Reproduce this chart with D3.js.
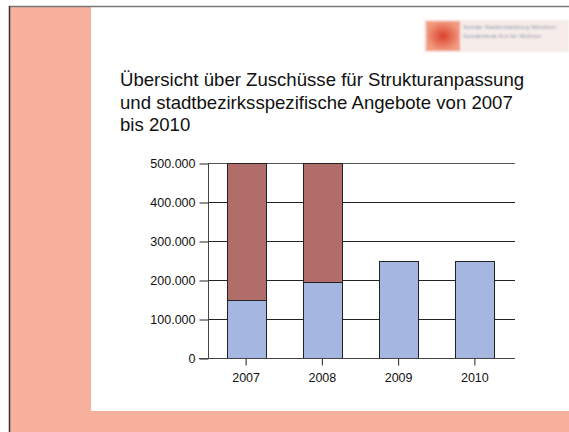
<!DOCTYPE html>
<html lang="de">
<head>
    <meta charset="UTF-8">
    <title>Zuschüsse</title>
    <script src="https://d3js.org/d3.v7.min.js"></script>
    <style>
        body {margin: 0; background: white;}
        text {font-family: "Liberation Sans", Arial, sans-serif;}
    </style>
</head>
<body>
<script>
    const width = 569;
    const height = 432;

    // data
    const years = ["2007", "2008", "2009", "2010"];
    const strukturanpassung = [148000, 196000, 250000, 250000];
    const stadtbezirk = [352000, 304000, 0, 0];
    const yTicks = [0, 100000, 200000, 300000, 400000, 500000];
    const titleLines = [
        "Übersicht über Zuschüsse für Strukturanpassung",
        "und stadtbezirksspezifische Angebote von 2007",
        "bis 2010"
    ];

    const svg = d3.select("body").append("svg")
            .attr("width", width).attr("height", height);

    // slide background
    svg.append("rect").attr("x", 9).attr("y", 6).attr("width", width - 9).attr("height", height - 6)
            .style("fill", "#f7b09c");
    svg.append("rect").attr("x", 91).attr("y", 7).attr("width", width - 91).attr("height", 404)
            .style("fill", "white");
    svg.append("line").attr("x1", 9).attr("x2", width).attr("y1", 6.5).attr("y2", 6.5)
            .style("stroke", "#777").style("stroke-width", 1.5);
    svg.append("line").attr("x1", 9.5).attr("x2", 9.5).attr("y1", 6).attr("y2", height)
            .style("stroke", "#333").style("stroke-width", 1.5);

    // blurred logo
    const defs = svg.append("defs");
    defs.append("filter").attr("id", "blur")
            .append("feGaussianBlur").attr("stdDeviation", 1.2);
    const grad = defs.append("radialGradient").attr("id", "logoRed");
    grad.append("stop").attr("offset", "0%").attr("stop-color", "#d9402c");
    grad.append("stop").attr("offset", "100%").attr("stop-color", "#f39a80");
    const logo = svg.append("g").attr("filter", "url(#blur)");
    logo.append("rect").attr("x", 424).attr("y", 20).attr("width", 145).attr("height", 32)
            .style("fill", "#f6ecea");
    logo.append("rect").attr("x", 426).attr("y", 21).attr("width", 34).attr("height", 30)
            .style("fill", "url(#logoRed)");
    logo.append("text").attr("x", 463).attr("y", 29).style("font-size", "6px").style("fill", "#8a95a8")
            .text("Soziale Stadtentwicklung München");
    logo.append("text").attr("x", 463).attr("y", 38).style("font-size", "6px").style("fill", "#8a95a8")
            .text("Sozialreferat Amt für Wohnen");

    // title
    svg.append("text").attr("x", 120).style("font-size", "18.6px").style("fill", "#111")
            .selectAll("tspan").data(titleLines).enter().append("tspan")
            .attr("x", 120).attr("y", (d, i) => 86 + i * 22.5)
            .text(d => d);

    // scales
    const x = d3.scaleBand().domain(years).range([208, 513]).paddingInner(0.49).paddingOuter(0.245);
    const y = d3.scaleLinear().domain([0, 500000]).range([358, 163]);
    const fmt = v => v === 0 ? "0" : d3.format(",")(v).replace(/,/g, ".");

    // grid
    svg.append("g").selectAll("line").data(yTicks.slice(1)).enter().append("line")
            .attr("x1", 208).attr("x2", 515)
            .attr("y1", d => Math.round(y(d)) + 0.5).attr("y2", d => Math.round(y(d)) + 0.5)
            .style("stroke", (d, i) => d === 500000 ? "#555" : "#222").style("stroke-width", 1);

    // y axis
    const yAxis = svg.append("g").attr("transform", "translate(208.5,0.5)")
            .call(d3.axisLeft(y).tickValues(yTicks).tickFormat(fmt).tickSize(9).tickPadding(4));
    yAxis.select(".domain").attr("d", "M0," + Math.round(y(500000)) + "V" + Math.round(y(0))).style("stroke", "#444");
    yAxis.selectAll(".tick line").style("stroke", "#222");
    yAxis.selectAll("text").style("font-size", "12.5px").style("fill", "#111")
            .attr("font-family", null);

    // bars
    const stack = years.map((yr, i) => ({year: yr, a: strukturanpassung[i], b: stadtbezirk[i]}));
    svg.append("g").selectAll("rect.blue").data(stack).enter().append("rect")
            .attr("class", "blue")
            .attr("x", d => Math.round(x(d.year)) + 0.5)
            .attr("y", d => Math.round(y(d.a)) + 0.5)
            .attr("width", Math.round(x.bandwidth()))
            .attr("height", d => Math.round(y(0)) - Math.round(y(d.a)))
            .style("fill", "#a5b7e0").style("stroke", "#222").style("stroke-width", 1);
    svg.append("g").selectAll("rect.red").data(stack.filter(d => d.b > 0)).enter().append("rect")
            .attr("class", "red")
            .attr("x", d => Math.round(x(d.year)) + 0.5)
            .attr("y", d => Math.round(y(d.a + d.b)) + 0.5)
            .attr("width", Math.round(x.bandwidth()))
            .attr("height", d => Math.round(y(d.a)) - Math.round(y(d.a + d.b)))
            .style("fill", "#b16d69").style("stroke", "#222").style("stroke-width", 1);

    // x axis
    const xAxis = svg.append("g").attr("transform", "translate(0," + (Math.round(y(0)) + 0.5) + ")")
            .call(d3.axisBottom(x).tickSize(7).tickPadding(8));
    xAxis.select(".domain").attr("d", "M199,0H515").style("stroke", "#444");
    xAxis.selectAll(".tick line").style("stroke", "#222");
    xAxis.selectAll("text").style("font-size", "12.5px").style("fill", "#111")
            .attr("font-family", null);
</script>
</body>
</html>
